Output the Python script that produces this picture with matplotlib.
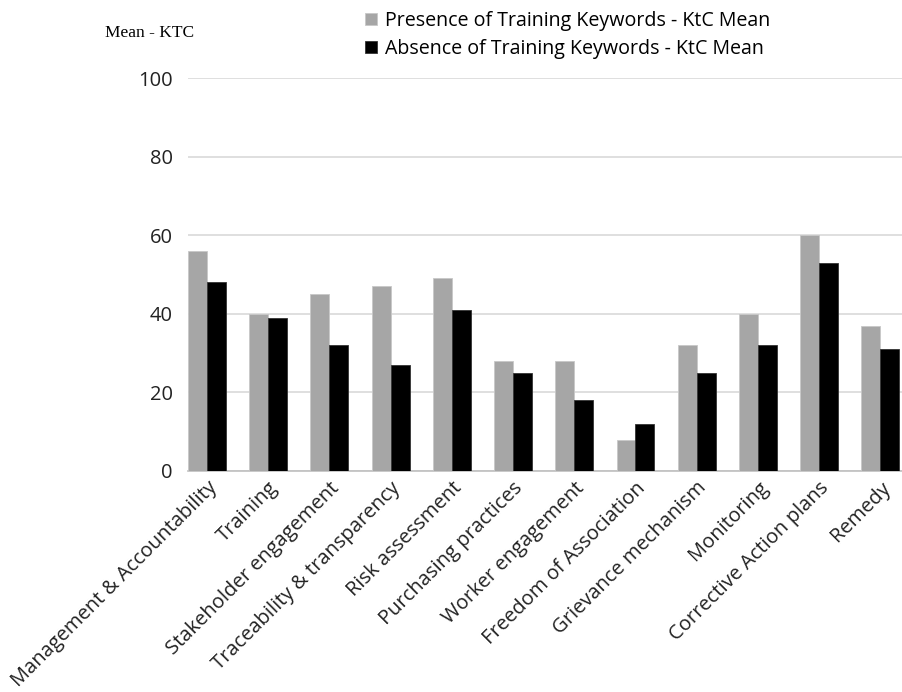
import numpy as np
import matplotlib.pyplot as plt

categories = [
    "Management & Accountability", "Training", "Stakeholder engagement",
    "Traceability & transparency", "Risk assessment", "Purchasing practices",
    "Worker engagement", "Freedom of Association", "Grievance mechanism",
    "Monitoring", "Corrective Action plans", "Remedy",
]
presence_mean = [56, 40, 45, 47, 49, 28, 28, 8, 32, 40, 60, 37]
absence_mean = [48, 39, 32, 27, 41, 25, 18, 12, 25, 32, 53, 31]
series_labels = [
    "Presence of Training Keywords - KtC Mean",
    "Absence of Training Keywords - KtC Mean",
]

plt.rcParams['font.family'] = ['Open Sans', 'DejaVu Sans']

fig = plt.figure(figsize=(9.03, 6.92), dpi=100)
ax = fig.add_axes([188 / 903, 1 - 471 / 692, 715 / 903, 393 / 692])

x = np.arange(len(categories))
w = 0.31
b1 = ax.bar(x - w / 2, presence_mean, w, color='#a6a6a6', edgecolor='#c8c8c8',
            linewidth=0.6, label=series_labels[0], zorder=3)
b2 = ax.bar(x + w / 2, absence_mean, w, color='#000000', edgecolor='#333333',
            linewidth=0.6, label=series_labels[1], zorder=3)

ax.set_xlim(-w, len(categories) - 1 + 0.37)
ax.set_ylim(0, 100)
ax.set_yticks([0, 20, 40, 60, 80, 100])
ax.yaxis.grid(True, color='#d9d9d9', linewidth=1.2, zorder=0)
ax.tick_params(axis='y', length=0, labelsize=14.5, pad=11, colors='#222222')
ax.tick_params(axis='x', length=0, pad=5)
for side in ['top', 'right', 'left']:
    ax.spines[side].set_visible(False)
ax.spines['bottom'].set_color('#bfbfbf')
ax.spines['bottom'].set_linewidth(1.2)

ax.set_xticks(x)
ax.set_xticklabels(categories, rotation=45, ha='right', rotation_mode='anchor',
                   fontsize=14.5, color='#222222')

fig.text(105 / 903, 1 - 33 / 692, "Mean - KTC", family='Liberation Serif',
         fontsize=12.5, va='center', ha='left')

fig.legend(handles=[b1, b2], loc='upper left', bbox_to_anchor=(357 / 903, 1 - 3 / 692),
           frameon=False, fontsize=14.1, handlelength=0.6, handleheight=0.6,
           handletextpad=0.45, labelspacing=0.4, borderaxespad=0.0)

fig.savefig('out.png', dpi=100)
